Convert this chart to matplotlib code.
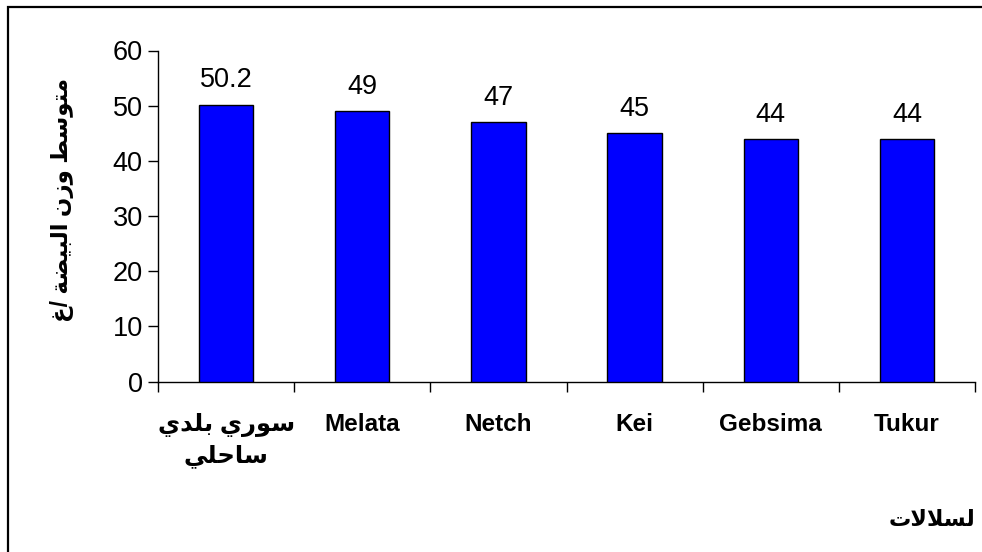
import matplotlib
matplotlib.use("Agg")
import matplotlib.pyplot as plt
from matplotlib.patches import Rectangle

# ---------------- data ----------------
categories = ["سوري بلدي\nساحلي", "Melata", "Netch", "Kei", "Gebsima", "Tukur"]
values = [50.2, 49, 47, 45, 44, 44]
value_labels = ["50.2", "49", "47", "45", "44", "44"]
y_ticks = [0, 10, 20, 30, 40, 50, 60]
y_label = "متوسط وزن البيضة /غ"
x_label = "لسلالات"

# ------------- minimal Arabic shaping (matplotlib has no bidi/shaping) -------------
FORMS = {  # isolated, final, initial, medial
    'ا': ('\uFE8D', '\uFE8E', None, None),
    'ب': ('\uFE8F', '\uFE90', '\uFE91', '\uFE92'),
    'ة': ('\uFE93', '\uFE94', None, None),
    'ت': ('\uFE95', '\uFE96', '\uFE97', '\uFE98'),
    'ح': ('\uFEA1', '\uFEA2', '\uFEA3', '\uFEA4'),
    'د': ('\uFEA9', '\uFEAA', None, None),
    'ر': ('\uFEAD', '\uFEAE', None, None),
    'ز': ('\uFEAF', '\uFEB0', None, None),
    'س': ('\uFEB1', '\uFEB2', '\uFEB3', '\uFEB4'),
    'ض': ('\uFEBD', '\uFEBE', '\uFEBF', '\uFEC0'),
    'ط': ('\uFEC1', '\uFEC2', '\uFEC3', '\uFEC4'),
    'غ': ('\uFECD', '\uFECE', '\uFECF', '\uFED0'),
    'ل': ('\uFEDD', '\uFEDE', '\uFEDF', '\uFEE0'),
    'م': ('\uFEE1', '\uFEE2', '\uFEE3', '\uFEE4'),
    'ن': ('\uFEE5', '\uFEE6', '\uFEE7', '\uFEE8'),
    'و': ('\uFEED', '\uFEEE', None, None),
    'ي': ('\uFEF1', '\uFEF2', '\uFEF3', '\uFEF4'),
    'LA': ('\uFEFB', '\uFEFC', None, None),
}


def dual(c):
    return c in FORMS and FORMS[c][2] is not None


def shape_line(s):
    toks = []
    i = 0
    while i < len(s):
        if s[i] == 'ل' and i + 1 < len(s) and s[i + 1] == 'ا':
            toks.append('LA')
            i += 2
        else:
            toks.append(s[i])
            i += 1
    out = []
    for k, c in enumerate(toks):
        if c not in FORMS:
            out.append(c)
            continue
        prev = toks[k - 1] if k > 0 else None
        nxt = toks[k + 1] if k + 1 < len(toks) else None
        jp = prev is not None and dual(prev)
        jn = dual(c) and nxt is not None and nxt in FORMS
        f = FORMS[c]
        if jp and jn:
            out.append(f[3])
        elif jp:
            out.append(f[1])
        elif jn:
            out.append(f[2])
        else:
            out.append(f[0])
    return ''.join(reversed(out))


def shape(s):
    if not any('\u0600' <= ch <= '\u06FF' for ch in s):
        return s
    return '\n'.join(shape_line(l) for l in s.split('\n'))


FAM = ['Liberation Sans', 'DejaVu Sans']
plt.rcParams['font.family'] = FAM

fig = plt.figure(figsize=(9.82, 5.52), dpi=100)
ax = fig.add_axes([158 / 982, 1 - 381.5 / 552, (975 - 158) / 982, (381.5 - 50.5) / 552])

x = list(range(len(categories)))
ax.bar(x, values, width=0.4, color='#0000FF', edgecolor='black', linewidth=1.0, zorder=3)

for xi, v, lab in zip(x, values, value_labels):
    ax.annotate(lab, (xi, v), xytext=(0, 8), textcoords='offset points',
                ha='center', va='bottom', fontsize=19.5, color='black')

ax.set_xlim(-0.5, len(categories) - 0.5)
ax.set_ylim(0, 60)
ax.set_yticks(y_ticks)
ax.set_yticklabels([str(t) for t in y_ticks], fontsize=19.5)
ax.tick_params(axis='y', direction='out', length=7, width=1, pad=4)

ax.set_xticks(x)
ax.set_xticklabels([shape(c) for c in categories], fontsize=17.5, fontweight='bold',
                   linespacing=1.4)
for t in ax.get_xticklabels():
    t.set_va('top')
ax.tick_params(axis='x', which='major', length=0, pad=23)
ax.set_xticks([i - 0.5 for i in range(len(categories) + 1)], minor=True)
ax.tick_params(axis='x', which='minor', direction='out', length=7.5, width=1)

for side in ['top', 'right']:
    ax.spines[side].set_visible(False)
for side in ['left', 'bottom']:
    ax.spines[side].set_linewidth(1.0)

ax.set_ylabel(shape(y_label), fontsize=16.5, fontweight='bold')
ax.yaxis.set_label_coords(-84 / 817, 0.548)

fig.text(975 / 982, 1 - 520 / 552, shape(x_label), fontsize=16, fontweight='bold',
         ha='right', va='center')

# outer frame (extends past right and bottom edges like the reference)
fig.patches.append(Rectangle((8 / 982, -0.1), 1.2, 1 - 7 / 552 + 0.1,
                             transform=fig.transFigure, fill=False,
                             edgecolor='black', linewidth=1.6))

fig.savefig('out.png', dpi=100)
